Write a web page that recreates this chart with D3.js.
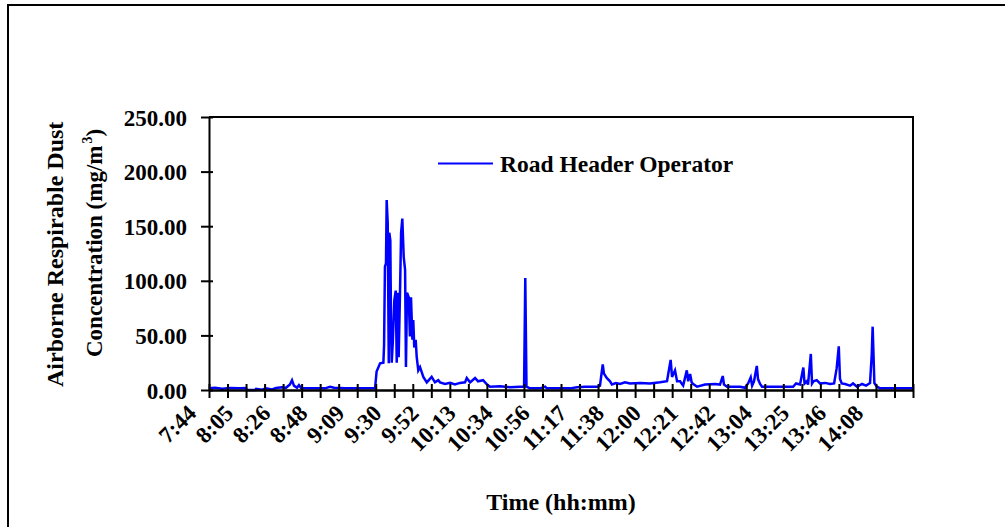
<!DOCTYPE html>
<html>
<head>
<meta charset="utf-8">
<script src="https://cdn.jsdelivr.net/npm/d3@7"></script>
<style>
  html, body { margin: 0; padding: 0; background: #fff; }
  svg { display: block; }
  text { font-family: "Liberation Serif", "Times New Roman", serif; font-weight: bold; fill: #000; }
</style>
</head>
<body>
<svg id="chart" width="1005" height="527"></svg>
<script>
// ---- data ----
const seriesName = "Road Header Operator";
const startClock = "7:44";
// elapsed minutes after 7:44
const elapsedMin = [
  0, 3.5, 7.5, 12.1, 17.8, 21.3, 21.9, 26.5, 27.1, 30.5, 32.8, 36.3, 38.6, 42.0, 44.3, 46.6, 47.8, 48.9, 50.7, 51.8,
  53.0, 58.2, 66.8, 69.7, 72.0, 78.3, 86.9,
  95.6, 96.5, 98.5, 100.4, 100.8, 101.3, 101.9, 102.3, 102.9, 103.5, 103.8, 104.4, 104.8, 105.2, 105.8, 106.7, 107.5, 108.1,
  108.7, 109.2, 110.0, 110.6, 111.3, 112.1, 112.9, 113.4, 114.0, 115.0, 115.7, 116.3, 117.1, 117.6, 118.2, 119.0, 119.6, 120.5,
  121.5, 123.4, 125.4, 128.2, 130.1, 132.0,
  133.0, 135.9, 138.8, 141.6, 144.5, 147.4, 148.4, 150.3,
  153.2, 154.9, 157.8, 160.1, 161.8, 167.6, 173.3, 179.1, 181.4, 182.1, 182.8, 184.8, 190.6, 193.5, 194.6, 202.1, 207.9, 211.9, 216.5, 224.0,
  225.1, 226.7, 227.4, 229.0, 230.9, 232.0, 234.3, 236.7, 239.5, 242.4, 248.2, 253.9, 259.7, 263.7, 265.8, 266.6, 268.3, 269.5, 271.2, 273.0,
  275.1, 275.9, 277.0, 277.9, 278.8, 281.0, 285.6, 291.4, 294.2, 295.8, 296.5, 298.3, 305.8, 308.6, 310.4, 311.9, 312.7, 313.8, 315.4, 316.1,
  317.3, 318.4, 336.3, 338.0, 340.3, 342.2, 342.9, 344.2, 344.9, 346.5, 347.2, 348.0, 349.9, 351.8, 354.7, 357.6, 359.9, 361.4, 362.6, 363.3,
  364.3, 366.2, 369.1, 370.8, 373.1, 376.0, 378.3, 380.6, 381.6, 382.1, 383.1, 384.6, 386.4, 405.3
];
const dustValues = [
  1.5, 2.0, 1.2, 1.8, 1.5, 1.8, 0.0, 0.0, 1.0, 0.3, 1.5, 0.5, 1.8, 2.5, 2.0, 5.0, 9.0, 4.0, 2.0, 4.5,
  1.8, 1.5, 1.5, 3.0, 2.0, 1.5, 1.5,
  1.5, 17, 24.5, 25, 41, 113, 116, 174, 153, 24.5, 144, 137, 61, 25, 43, 82, 91, 25,
  89, 30, 91, 144, 157, 122, 110, 21, 89, 85, 49, 85, 46, 64, 39, 46, 30, 18,
  21, 12, 7, 12, 7, 9,
  7, 5.5, 6.5, 5, 6.5, 7, 11, 7,
  11, 8, 9, 5, 3, 3.5, 2.5, 3, 3, 102.6, 3, 1.5, 1.5, 3, 1.5, 1.5, 1.5, 2.5, 3, 3,
  4, 23.5, 15, 11, 8, 5, 6.4, 5.5, 7, 6, 6.5, 6, 7, 8, 27.5, 12, 18, 8, 8, 4,
  18, 8, 14.6, 7, 5.5, 3, 5, 5.5, 5, 12.8, 5, 3, 3, 2, 6, 11.6, 4, 8, 22, 10,
  5.5, 3, 3, 6, 5, 20.5, 6, 8, 5, 33, 6, 8, 9, 6, 6.5, 5.5, 6, 20, 40, 10,
  6, 5.5, 4, 6, 3, 5.5, 4, 6.4, 33, 58, 6.4, 3, 1.5, 1.5
];
const yTickValues = [0, 50, 100, 150, 200, 250];
const xTickLabels = ["7:44", "8:05", "8:26", "8:48", "9:09", "9:30", "9:52", "10:13", "10:34", "10:56",
  "11:17", "11:38", "12:00", "12:21", "12:42", "13:04", "13:25", "13:46", "14:08"];
const minorTickStep = 10.6667;   // minutes between tick marks
const labelEvery = 2;            // a label on every second tick mark
const tickCount = 39;
const yTitle1 = "Airborne Respirable Dust";
const yTitle2 = "Concentration (mg/m";
const xTitle = "Time (hh:mm)";

// ---- layout ----
const svg = d3.select("#chart");
const L = 209, R = 913, T = 117, B = 390;

const x = d3.scaleLinear().domain([0, minorTickStep * (tickCount - 1)]).range([L, R]);
const y = d3.scaleLinear().domain([0, 250]).range([B, T]);

// outer frame
svg.append("rect").attr("x", 8).attr("y", 5).attr("width", 1100).attr("height", 600)
  .attr("fill", "none").attr("stroke", "#000").attr("stroke-width", 2);

// plot border (top, right)
svg.append("path").attr("d", `M${L},${T}H${R}V${B}`)
  .attr("fill", "none").attr("stroke", "#000").attr("stroke-width", 2);

// data line
const pts = elapsedMin.map((t, i) => [t, dustValues[i]]);
const line = d3.line().x(d => x(d[0])).y(d => y(d[1]));
svg.append("path").datum(pts).attr("d", line)
  .attr("fill", "none").attr("stroke", "#0000ff").attr("stroke-width", 2.5).attr("stroke-linejoin", "miter");

// y axis
const yAxis = svg.append("g").attr("transform", `translate(${L},0)`)
  .call(d3.axisLeft(y).tickValues(yTickValues).tickFormat(d3.format(".2f")).tickSize(8).tickSizeOuter(0));
yAxis.attr("font-family", null).attr("font-size", null);
yAxis.select(".domain").attr("stroke", "#000").attr("stroke-width", 2);
yAxis.selectAll(".tick line").attr("x1", 4).attr("x2", -8).attr("stroke", "#000").attr("stroke-width", 2);
yAxis.selectAll(".tick text").attr("x", -22).attr("dy", "0.35em").style("font-size", "23px");

// x axis ticks
const tickMins = d3.range(tickCount).map(k => k * minorTickStep);
const xAxis = svg.append("g").attr("transform", `translate(0,${B})`)
  .call(d3.axisBottom(x).tickValues(tickMins).tickFormat("").tickSize(8).tickSizeOuter(0));
xAxis.select(".domain").attr("stroke", "#000").attr("stroke-width", 2.5);
xAxis.selectAll(".tick line").attr("y1", -6).attr("y2", 8).attr("stroke", "#000").attr("stroke-width", 2);

// x tick labels (rotated)
svg.append("g").selectAll("text").data(xTickLabels).join("text")
  .attr("transform", (d, i) => `translate(${x(i * labelEvery * minorTickStep) - 17},409) rotate(-45)`)
  .attr("text-anchor", "end").attr("dy", "0.35em")
  .style("font-size", "23px")
  .text(d => d);

// y title
svg.append("text").attr("transform", "translate(63,387) rotate(-90)")
  .attr("text-anchor", "start").style("font-size", "24px").text(yTitle1);
const t2 = svg.append("text").attr("transform", "translate(102,357) rotate(-90)")
  .attr("text-anchor", "start").style("font-size", "23px");
t2.append("tspan").text(yTitle2);
t2.append("tspan").attr("dx", 2).attr("dy", -10).style("font-size", "14px").text("3");
t2.append("tspan").attr("dy", 10).text(")");

// x title
svg.append("text").attr("x", (L + R) / 2).attr("y", 510).attr("text-anchor", "middle")
  .style("font-size", "24px").text(xTitle);

// legend
svg.append("line").attr("x1", 438).attr("x2", 493).attr("y1", 163.5).attr("y2", 163.5)
  .attr("stroke", "#0000ff").attr("stroke-width", 2);
svg.append("text").attr("x", 500).attr("y", 172).style("font-size", "23.5px").text(seriesName);
</script>
</body>
</html>
